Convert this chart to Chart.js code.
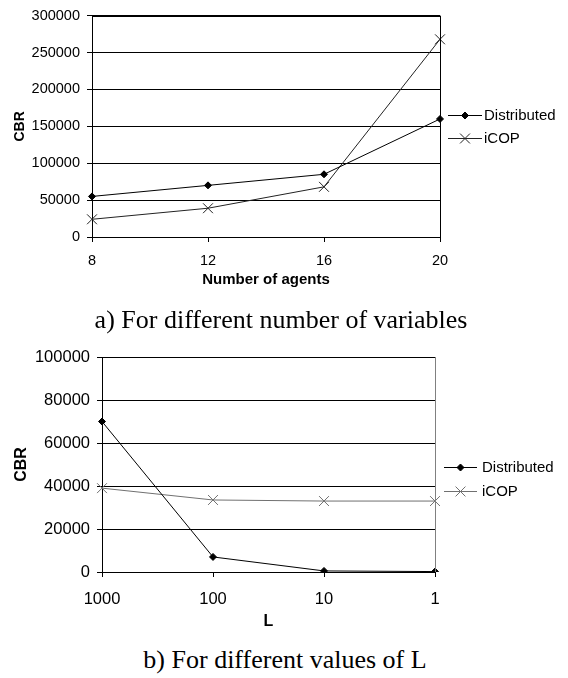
<!DOCTYPE html>
<html>
<head>
<meta charset="utf-8">
<script src="https://cdn.jsdelivr.net/npm/chart.js@4.4.1/dist/chart.umd.min.js"></script>
<style>
  html, body { margin: 0; padding: 0; background: #fff; }
  #wrap { position: relative; width: 568px; height: 678px; overflow: hidden; background: #fff; }
  canvas { position: absolute; left: 0; }
  .cap { position: absolute; transform: translateX(-50%); white-space: nowrap;
         font-family: 'Liberation Serif', 'Times New Roman', serif; font-size: 26px; line-height: 26px; color: #000; }
</style>
</head>
<body>
<div id="wrap">
  <canvas id="c1" width="568" height="300" style="top:0px"></canvas>
  <canvas id="c2" width="568" height="320" style="top:320px"></canvas>
  <div class="cap" style="left:281px; top:307px;">a) For different number of variables</div>
  <div class="cap" style="left:285px; top:647px;">b) For different values of L</div>
</div>
<script>
// ---- Data: chart a ----
const agentLabels = ['8', '12', '16', '20'];
const distributedA = [55000, 70000, 85000, 160000];
const icopA = [24000, 39000, 68000, 268000];

// ---- Data: chart b ----
const lLabels = ['1000', '100', '10', '1'];
const distributedB = [70000, 7000, 500, 200];
const icopB = [39000, 33500, 33000, 33000];

const seriesNames = ['Distributed', 'iCOP'];

const SANS = "'Liberation Sans', Arial, sans-serif";

const frameLegendPlugin = {
  id: 'frameLegend',
  afterDraw(chart, args, opts) {
    const ctx = chart.ctx;
    const a = chart.chartArea;
    ctx.save();
    // top border
    ctx.strokeStyle = '#000';
    ctx.lineWidth = 1;
    ctx.beginPath();
    ctx.moveTo(a.left, Math.round(a.top) + 0.5);
    ctx.lineTo(a.right + 1, Math.round(a.top) + 0.5);
    ctx.stroke();
    // right border
    ctx.strokeStyle = opts.rightColor || '#000';
    ctx.beginPath();
    ctx.moveTo(Math.round(a.right) + 0.5, a.top);
    ctx.lineTo(Math.round(a.right) + 0.5, a.bottom);
    ctx.stroke();
    // legend
    ctx.font = opts.fontSize + 'px ' + SANS;
    ctx.textBaseline = 'middle';
    ctx.textAlign = 'left';
    chart.data.datasets.forEach((ds, i) => {
      const y = opts.y + i * opts.dy;
      ctx.strokeStyle = ds.borderColor;
      ctx.lineWidth = 1;
      ctx.beginPath();
      ctx.moveTo(opts.x0, Math.round(y) + 0.5);
      ctx.lineTo(opts.x1, Math.round(y) + 0.5);
      ctx.stroke();
      Chart.helpers.drawPoint(ctx, {
        pointStyle: ds.pointStyle, radius: ds.pointRadius, borderWidth: 1
      }, (opts.x0 + opts.x1) / 2, Math.round(y) + 0.5);
      ctx.fillStyle = '#000';
      ctx.fillText(ds.label, opts.tx, y + 1);
    });
    ctx.restore();
  }
};

// drawPoint uses ctx fill/stroke styles set by caller; wrap to set them
const _drawPoint = Chart.helpers.drawPoint;

function makeChart(id, labels, d1, d2, cfg) {
  return new Chart(document.getElementById(id), {
    type: 'line',
    data: {
      labels: labels,
      datasets: [
        { label: seriesNames[0], data: d1, borderColor: '#000', backgroundColor: '#000',
          borderWidth: 1, pointStyle: 'rectRot', pointRadius: 3.5, pointBorderWidth: 1,
          pointBackgroundColor: '#000', pointBorderColor: '#000', tension: 0 },
        { label: seriesNames[1], data: d2, borderColor: cfg.icopColor, backgroundColor: cfg.icopColor,
          borderWidth: 1, pointStyle: 'crossRot', pointRadius: 7, pointBorderWidth: 1,
          pointBackgroundColor: cfg.icopColor, pointBorderColor: cfg.icopColor, tension: 0 }
      ]
    },
    options: {
      responsive: false,
      animation: false,
      devicePixelRatio: 1,
      layout: { padding: { left: 0, right: cfg.padRight, top: cfg.padTop, bottom: 0 } },
      plugins: {
        legend: { display: false },
        tooltip: { enabled: false },
        frameLegend: cfg.legend
      },
      scales: {
        x: {
          type: 'category',
          offset: false,
          afterFit: (s) => { s.height = cfg.xHeight; },
          grid: { display: true, drawOnChartArea: false, drawTicks: true, tickLength: 5, color: '#000' },
          border: { display: true, color: '#000', width: 1 },
          ticks: { color: '#000', font: { family: SANS, size: cfg.tickSize }, padding: cfg.xTickPad, maxRotation: 0 },
          title: { display: true, text: cfg.xTitle, color: '#000',
                   font: { family: SANS, size: cfg.titleSize, weight: 'bold' },
                   padding: { top: 0, bottom: cfg.xTitlePadBottom } }
        },
        y: {
          min: 0, max: cfg.yMax,
          afterFit: (s) => { s.width = cfg.yWidth; },
          ticks: { stepSize: cfg.yStep, color: '#000', font: { family: SANS, size: cfg.tickSize }, padding: 7,
                   callback: (v) => String(v) },
          grid: { color: '#000', lineWidth: 1, tickLength: 5, drawTicks: true },
          border: { display: true, color: '#000', width: 1 },
          title: { display: true, text: 'CBR', color: '#000',
                   font: { family: SANS, size: cfg.yTitleSize, weight: 'bold' },
                   padding: { top: cfg.yTitlePadTop, bottom: 0 } }
        }
      }
    },
    plugins: [frameLegendPlugin]
  });
}

makeChart('c1', agentLabels, distributedA, icopA, {
  icopColor: '#222',
  padRight: 128, padTop: 15, xHeight: 63, yWidth: 92,
  tickSize: 14.5, titleSize: 15, yTitleSize: 14,
  xTickPad: 10, xTitle: 'Number of agents', xTitlePadBottom: 11,
  yMax: 300000, yStep: 50000, yTitlePadTop: 12,
  legend: { x0: 448, x1: 482, tx: 484, y: 115, dy: 23, fontSize: 15, rightColor: '#000' }
});

makeChart('c2', lLabels, distributedB, icopB, {
  icopColor: '#707070',
  padRight: 133, padTop: 37, xHeight: 68, yWidth: 102,
  tickSize: 16.5, titleSize: 16, yTitleSize: 16,
  xTickPad: 13, xTitle: 'L', xTitlePadBottom: 9,
  yMax: 100000, yStep: 20000, yTitlePadTop: 12,
  legend: { x0: 444, x1: 477, tx: 482, y: 147, dy: 24, fontSize: 15, rightColor: '#808080' }
});
</script>
</body>
</html>
